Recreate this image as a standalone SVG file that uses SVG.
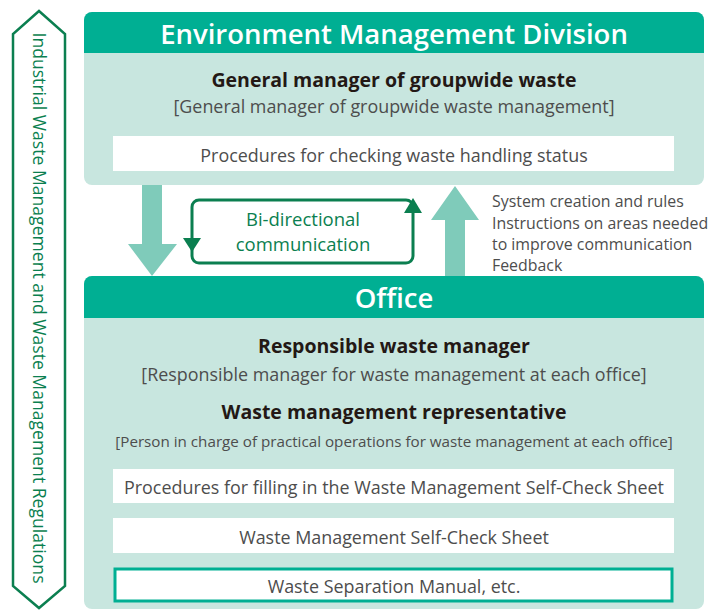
<svg xmlns="http://www.w3.org/2000/svg" width="713" height="610" viewBox="0 0 713 610">
<style>
text{font-family:"Open Sans","Noto Sans","Liberation Sans",sans-serif;}
.hdr{fill:#00AF93;}
.body{fill:#C8E6DF;}
.wbox{fill:#FFFFFF;}
.title{fill:#FFFFFF;font-size:27.5px;font-weight:600;text-anchor:middle;}
.bold{fill:#231815;font-size:19.5px;font-weight:700;text-anchor:middle;}
.reg{fill:#4D4D4D;font-size:17.9px;text-anchor:middle;}
.side{fill:#4D4D4D;font-size:15.9px;}
.green{fill:#0B7F50;}
.arrow{fill:#7FCBBA;}
</style>
<defs>
<clipPath id="topclip"><rect x="84" y="12" width="620" height="173" rx="8"/></clipPath>
<clipPath id="offclip"><rect x="84" y="276" width="620" height="333" rx="8"/></clipPath>
</defs>

<g id="regulations">
<polygon points="39,11 65,34 65,586 39,608 13,586 13,34" fill="#FFFFFF" stroke="#0B7F50" stroke-width="2.5"/>
<text transform="translate(33,308) rotate(90)" class="green" style="font-size:17.6px;text-anchor:middle;">Industrial Waste Management and Waste Management Regulations</text>
</g>

<g id="env-division">
<g clip-path="url(#topclip)">
<rect x="84" y="12" width="620" height="173" class="body"/>
<rect x="84" y="12" width="620" height="41" class="hdr"/>
</g>
<text x="394" y="44" class="title">Environment Management Division</text>
<text x="394" y="87" class="bold">General manager of groupwide waste</text>
<text x="394" y="113" class="reg">[General manager of groupwide waste management]</text>
<rect x="113" y="136" width="561" height="35" class="wbox"/>
<text x="394" y="162" class="reg">Procedures for checking waste handling status</text>
</g>

<g id="office">
<g clip-path="url(#offclip)">
<rect x="84" y="276" width="620" height="333" class="body"/>
<rect x="84" y="276" width="620" height="42" class="hdr"/>
</g>
<text x="394" y="308" class="title">Office</text>
<text x="394" y="353" class="bold">Responsible waste manager</text>
<text x="394" y="381" class="reg">[Responsible manager for waste management at each office]</text>
<text x="394" y="419" class="bold">Waste management representative</text>
<text x="394" y="447" class="reg" style="font-size:15.2px;">[Person in charge of practical operations for waste management at each office]</text>
<rect x="113" y="469" width="561" height="34" class="wbox"/>
<text x="394" y="494" class="reg">Procedures for filling in the Waste Management Self-Check Sheet</text>
<rect x="113" y="518" width="561" height="35" class="wbox"/>
<text x="394" y="544" class="reg">Waste Management Self-Check Sheet</text>
<rect x="115" y="569" width="557" height="32" class="wbox" stroke="#00AF93" stroke-width="3"/>
<text x="394" y="593" class="reg">Waste Separation Manual, etc.</text>
</g>

<g id="connectors">
<polygon points="142,185 162,185 162,244 177,244 152,276 128,244 142,244" class="arrow"/>
<polygon points="445,276 465,276 465,220 479,220 455,186 431,220 445,220" class="arrow"/>
<g id="bidirectional">
<rect x="192" y="200" width="221" height="63" rx="7" fill="none" stroke="#0B7F50" stroke-width="3"/>
<polygon points="183,238 201,238 192,252" class="green"/>
<polygon points="404,213 422,213 413,198" class="green"/>
<text x="303" y="226" class="green" style="font-size:18.5px;text-anchor:middle;">Bi-directional</text>
<text x="303" y="251" class="green" style="font-size:18.5px;text-anchor:middle;">communication</text>
</g>
<g id="feedback-label">
<text x="492" y="207" class="side">System creation and rules</text>
<text x="492" y="229" class="side">Instructions on areas needed</text>
<text x="492" y="250" class="side">to improve communication</text>
<text x="492" y="271" class="side">Feedback</text>
</g>
</g>
</svg>
